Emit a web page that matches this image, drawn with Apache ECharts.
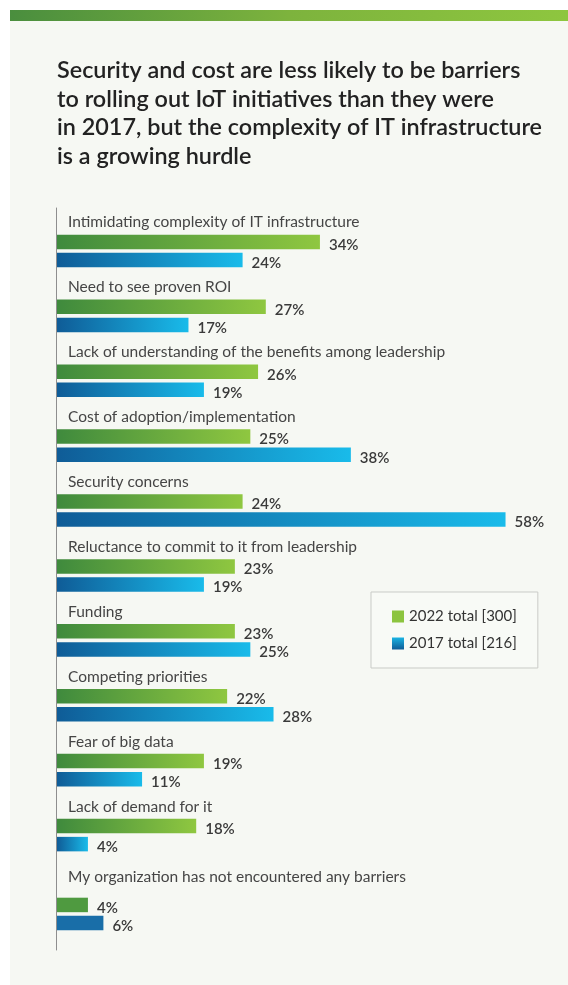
<!DOCTYPE html>
<html>
<head>
<meta charset="utf-8">
<script src="https://cdn.jsdelivr.net/npm/echarts@6/dist/echarts.min.js"></script>
<style>
html,body{margin:0;padding:0;background:#ffffff;}
#topbar{position:absolute;left:10px;top:10px;width:558px;height:11px;background:linear-gradient(to right,#4a8e3e,#7db33d 50%,#8ec63f);}
#panel{position:absolute;left:10px;top:21px;width:558px;height:964px;background:#f6f8f3;}
#chart{position:absolute;left:0;top:0;width:568px;height:985px;}
</style>
</head>
<body>
<div id="topbar"></div>
<div id="panel"></div>
<div id="chart"></div>
<script>
const categories = [
  "Intimidating complexity of IT infrastructure",
  "Need to see proven ROI",
  "Lack of understanding of the benefits among leadership",
  "Cost of adoption/implementation",
  "Security concerns",
  "Reluctance to commit to it from leadership",
  "Funding",
  "Competing priorities",
  "Fear of big data",
  "Lack of demand for it",
  "My organization has not encountered any barriers"
];
const values2022 = [34, 27, 26, 25, 24, 23, 23, 22, 19, 18, 4];
const values2017 = [24, 17, 19, 38, 58, 19, 25, 28, 11, 4, 6];
const seriesNames = ["2022 total [300]", "2017 total [216]"];
const titleText = "Security and cost are less likely to be barriers\nto rolling out IoT initiatives than they were\nin 2017, but the complexity of IT infrastructure\nis a growing hurdle";

const chart = echarts.init(document.getElementById('chart'), null, {renderer: 'canvas'});
const FONT = 'Lato, "Open Sans", sans-serif';
const greenGrad = new echarts.graphic.LinearGradient(0, 0, 1, 0, [
  {offset: 0, color: '#3f8a3d'}, {offset: 1, color: '#8fc740'}]);
const blueGrad = new echarts.graphic.LinearGradient(0, 0, 1, 0, [
  {offset: 0, color: '#0f5c97'}, {offset: 1, color: '#19bbea'}]);
const blueLegend = new echarts.graphic.LinearGradient(0, 0, 0, 1, [
  {offset: 0, color: '#1ab3e3'}, {offset: 1, color: '#0f5c97'}]);

const main = categories.slice(0, 10);
const last = categories.slice(10);

const valueLabel = {
  show: true, position: 'right', distance: 9, offset: [0, 3],
  formatter: '{c}%', fontFamily: FONT, fontSize: 15, fontWeight: 600, color: '#3a3a3a'
};
// label sits above its pair of bars: a text line followed by an empty spacer line
const catLabel = (spacer) => ({
  show: true, inside: true, margin: 11, align: 'left', verticalAlign: 'middle',
  interval: 0, showMinLabel: true, showMaxLabel: true, hideOverlap: false,
  formatter: (v) => '{t|' + v + '}\n{s|}',
  rich: {
    t: {fontFamily: FONT, fontSize: 15.5, color: '#454545', lineHeight: 18, height: 18},
    s: {height: spacer, lineHeight: spacer, fontSize: 1}
  }
});

chart.setOption({
  animation: false,
  title: {
    text: titleText, left: 57, top: 56, padding: 0,
    textStyle: {fontFamily: FONT, fontSize: 23.4, fontWeight: 600, lineHeight: 28.7, color: '#222'}
  },
  legend: {
    orient: 'vertical', left: 371, top: 592,
    padding: [17, 21, 17, 21], itemGap: 12, itemWidth: 12, itemHeight: 12,
    backgroundColor: '#f8faf6', borderColor: '#c9cbc7', borderWidth: 1,
    textStyle: {fontFamily: FONT, fontSize: 15, color: '#333'},
    data: [
      {name: seriesNames[0], icon: 'rect', itemStyle: {color: '#8cc43f'}},
      {name: seriesNames[1], icon: 'rect', itemStyle: {color: blueLegend}}
    ]
  },
  grid: [
    {left: 57, width: 464, top: 218.5, height: 649},
    {left: 57, width: 464, top: 881.5, height: 65},
    {left: 56, width: 1, top: 208, height: 742}
  ],
  xAxis: [
    {gridIndex: 0, type: 'value', min: 0, max: 60, show: false},
    {gridIndex: 1, type: 'value', min: 0, max: 60, show: false},
    {gridIndex: 2, type: 'value', min: 0, max: 1, show: false}
  ],
  yAxis: [
    {gridIndex: 0, type: 'category', data: main, inverse: true,
      axisLine: {show: false}, axisTick: {show: false}, splitLine: {show: false},
      axisLabel: catLabel(57)},
    {gridIndex: 1, type: 'category', data: last, inverse: true,
      axisLine: {show: false}, axisTick: {show: false}, splitLine: {show: false},
      axisLabel: catLabel(75)},
    {gridIndex: 2, type: 'value', min: 0, max: 1,
      axisLine: {show: true, lineStyle: {color: '#8e8e8e', width: 1}},
      axisTick: {show: false}, axisLabel: {show: false}, splitLine: {show: false}}
  ],
  series: [
    {name: seriesNames[0], type: 'bar', xAxisIndex: 0, yAxisIndex: 0,
      data: values2022.slice(0, 10), barWidth: 14.5, barGap: '25%',
      itemStyle: {color: greenGrad}, label: valueLabel},
    {name: seriesNames[1], type: 'bar', xAxisIndex: 0, yAxisIndex: 0,
      data: values2017.slice(0, 10), barWidth: 14.5, barGap: '25%',
      itemStyle: {color: blueGrad}, label: valueLabel},
    {name: seriesNames[0], type: 'bar', xAxisIndex: 1, yAxisIndex: 1,
      data: values2022.slice(10), barWidth: 14.5, barGap: '25%',
      itemStyle: {color: '#4f9a40'}, label: valueLabel},
    {name: seriesNames[1], type: 'bar', xAxisIndex: 1, yAxisIndex: 1,
      data: values2017.slice(10), barWidth: 14.5, barGap: '25%',
      itemStyle: {color: '#196ea8'}, label: valueLabel}
  ]
});
</script>
</body>
</html>
